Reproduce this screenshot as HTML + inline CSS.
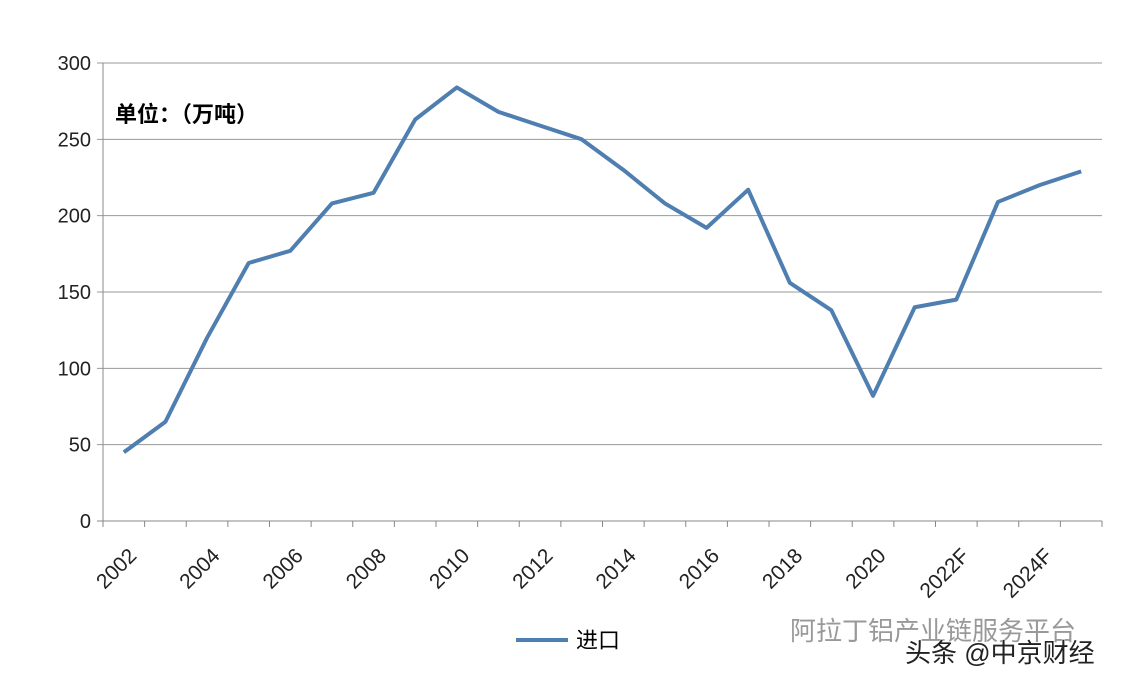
<!DOCTYPE html>
<html><head><meta charset="utf-8"><style>
body{margin:0;background:#fff;width:1134px;height:682px;overflow:hidden;font-family:"Liberation Sans","Noto Sans CJK SC",sans-serif}
</style></head><body>
<svg width="1134" height="682" xmlns="http://www.w3.org/2000/svg">
<g id="grid"></g><g id="axes"></g><g id="series"></g>
<text x="115" y="122" font-size="22" font-weight="bold" font-family="Liberation Sans, Noto Sans CJK SC, sans-serif">单位：（万吨）</text>
<line x1="516" y1="640" x2="568" y2="640" stroke="#4f7eb0" stroke-width="4"/>
<text x="576" y="648" font-size="22" font-family="Liberation Sans, Noto Sans CJK SC, sans-serif">进口</text>
<text x="790" y="640" font-size="26" fill="#999" font-family="Liberation Sans, Noto Sans CJK SC, sans-serif">阿拉丁铝产业链服务平台</text>
<text x="905" y="662" font-size="26" fill="#222" stroke="#fff" stroke-width="1" paint-order="stroke" font-family="Liberation Sans, Noto Sans CJK SC, sans-serif">头条 @中京财经</text>
</svg>
<script>
const categories=["2002","2003","2004","2005","2006","2007","2008","2009","2010","2011","2012","2013","2014","2015","2016","2017","2018","2019","2020","2021","2022F","2023F","2024F","2025F"];
const importValues=[45,65,120,169,177,208,215,263,284,268,259,250,230,208,192,217,156,138,82,140,145,209,220,229];
const yTicks=[0,50,100,150,200,250,300];
const NS="http://www.w3.org/2000/svg";
const x0=103,x1=1102,yB=521,yT=63;
const bw=(x1-x0)/categories.length;
const xs=i=>x0+bw*(i+0.5);
const ys=v=>yB-(v/300)*(yB-yT);
function mk(t,a,p){const e=document.createElementNS(NS,t);for(const k in a)e.setAttribute(k,a[k]);p.appendChild(e);return e;}
const grid=document.getElementById('grid'),axes=document.getElementById('axes'),ser=document.getElementById('series');
yTicks.forEach(v=>{
 const l=mk('line',{x1:x0-6,x2:x1,y1:ys(v),y2:ys(v),stroke:v===0?'#888':'#999','stroke-width':1},grid);
 
 
 const t=mk('text',{x:x0-12,y:ys(v)+7,'text-anchor':'end','font-size':20,fill:'#222'},axes);
 t.textContent=v;
 
 
});
const ya=mk('line',{x1:x0,x2:x0,y1:yT,y2:yB,stroke:'#888'},axes);


for(let i=0;i<=categories.length;i++){
 const tk=mk('line',{x1:x0+bw*i,x2:x0+bw*i,y1:yB,y2:yB+6,stroke:'#888'},axes);
 
 
}
categories.forEach((c,i)=>{
 if(i%2)return;
 const x=xs(i)+14,y=yB+36;
 const t=mk('text',{x:x,y:y,'text-anchor':'end','font-size':21,fill:'#222',transform:`rotate(-45 ${x} ${y})`},axes);
 t.textContent=c;
 
 
});
const p=mk('polyline',{points:importValues.map((v,i)=>xs(i)+','+ys(v)).join(' '),fill:'none',stroke:'#4f7eb0','stroke-width':4,'stroke-linejoin':'round'},ser);


</script>
</body></html>
